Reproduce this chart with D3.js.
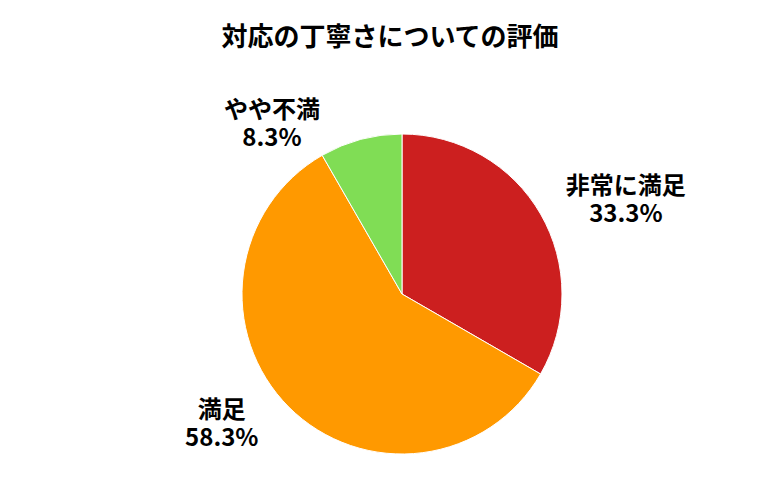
<!DOCTYPE html>
<html><head><meta charset="utf-8">
<script src="https://cdn.jsdelivr.net/npm/d3@7"></script>
<style>body{margin:0;background:#fff}</style>
</head><body>
<script>
const labels = ["非常に満足", "満足", "やや不満"];
const values = [33.3, 58.3, 8.3];
const colors = ["#cc1f1f", "#ff9900", "#80dd55"];

const width = 780, height = 500;
const cx = 402, cy = 294, radius = 160;
// label nudges (layout only)
const nudge = [[29, 18], [-21, -29], [-72, 47]];

const svg = d3.select("body").append("svg")
    .attr("width", width).attr("height", height)
    .style("font-family", "'Noto Sans CJK JP', 'Noto Sans', sans-serif");

svg.append("text")
    .attr("x", 390).attr("y", 46)
    .attr("text-anchor", "middle")
    .attr("font-size", 26).attr("font-weight", "bold")
    .text("対応の丁寧さについての評価");

const pie = d3.pie().sort(null).value(d => d);
const arcs = pie(values);
const arc = d3.arc().innerRadius(0).outerRadius(radius);
const labelArc = d3.arc().innerRadius(225).outerRadius(225);

const g = svg.append("g").attr("transform", `translate(${cx},${cy})`);
g.selectAll("path")
    .data(arcs)
    .enter().append("path")
    .attr("d", arc)
    .attr("fill", (d, i) => colors[i])
    .attr("stroke", "#fff")
    .attr("stroke-width", 1);

const lab = g.selectAll("text.lab")
    .data(arcs)
    .enter().append("text")
    .attr("class", "lab")
    .attr("text-anchor", "middle")
    .attr("font-size", 24).attr("font-weight", "bold")
    .attr("transform", (d, i) => {
        const c = labelArc.centroid(d);
        return `translate(${c[0] + nudge[i][0]},${c[1] + nudge[i][1]})`;
    });
lab.append("tspan").attr("x", 0).attr("y", -6).text((d, i) => labels[i]);
lab.append("tspan").attr("x", 0).attr("y", 22).text((d, i) => values[i].toFixed(1) + "%");
</script>
</body></html>
